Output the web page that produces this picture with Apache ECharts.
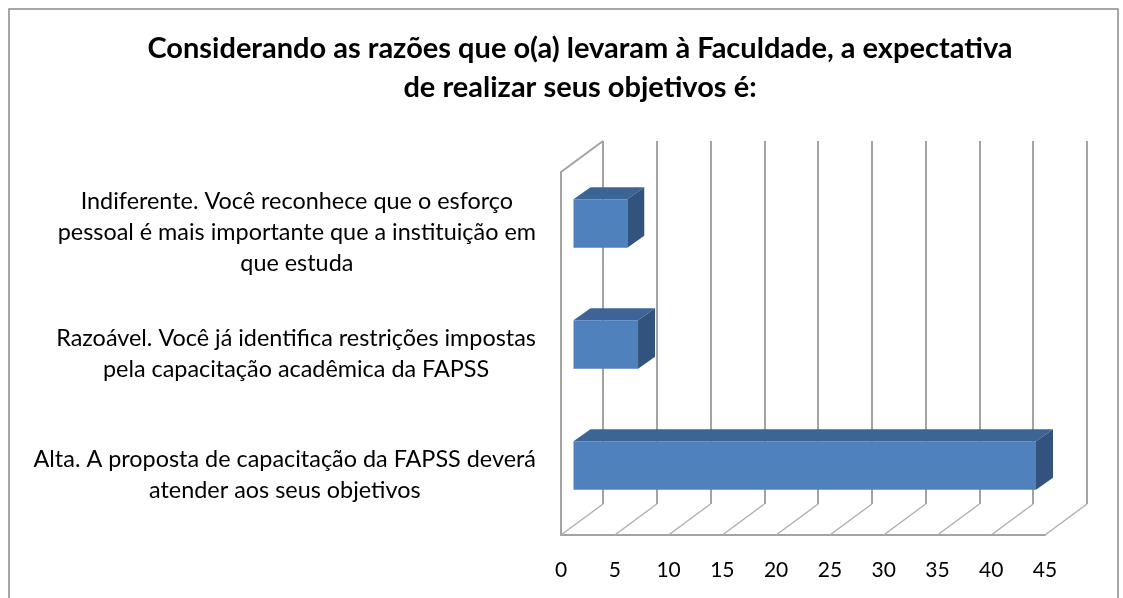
<!DOCTYPE html>
<html>
<head>
<meta charset="utf-8">
<script src="https://cdn.jsdelivr.net/npm/echarts@6/dist/echarts.min.js"></script>
<style>
  html, body { margin: 0; padding: 0; background: #fff; }
  #chart { width: 1123px; height: 598px; }
</style>
</head>
<body>
<div id="chart"></div>
<script>
// data, bottom category first (as Excel draws horizontal bars)
const categories = [
  "Alta. A proposta de capacitação da FAPSS deverá\natender aos seus objetivos",
  "Razoável. Você já identifica restrições impostas\npela capacitação acadêmica da FAPSS",
  "Indiferente. Você reconhece que o esforço\npessoal é mais importante que a instituição em\nque estuda",
];
const values = [43, 6, 5];
const xTicks = [0, 5, 10, 15, 20, 25, 30, 35, 40, 45];
const titleLines = [
  "Considerando as razões que o(a) levaram à Faculdade, a expectativa",
  "de realizar seus objetivos é:",
];

const FONT = "Lato, 'Open Sans', sans-serif";

// pick font sizes so text widths come close to the picture
const measureCtx = document.createElement("canvas").getContext("2d");
const fitSize = (text, weight, target) => {
  measureCtx.font = weight + " 100px " + FONT;
  return Math.round((1000 * target) / measureCtx.measureText(text).width) / 10;
};
const titleSize = fitSize(titleLines[0], "bold", 866);
const labelSize = fitSize(categories[0].split("\n")[0], "normal", 502);

// 3D look: wall depth and bar depth offsets
const DEPTH = [42, -31];
const BAR_SHIFT = [12.5, -9];
const BAR_DEPTH = [17, -12];
const GRID_COLOR = "#a3a3a3";

const chart = echarts.init(document.getElementById("chart"));

const option = {
  animation: false,
  backgroundColor: "#fff",
  title: {
    text: titleLines.join("\n"),
    left: 575,
    top: 24,
    textAlign: "center",
    textStyle: {
      fontFamily: FONT,
      fontWeight: "bold",
      fontSize: titleSize,
      lineHeight: 39,
      color: "#000",
    },
  },
  graphic: [
    {
      type: "rect",
      shape: { x: 9, y: 9, width: 1109, height: 620 },
      style: { fill: "none", stroke: "#8a8a8a", lineWidth: 1.5 },
      silent: true,
    },
  ],
  grid: [
    // front plane
    { left: 561, top: 172, width: 484, height: 363 },
    // back wall
    { left: 561 + DEPTH[0], top: 172 + DEPTH[1], width: 484, height: 363 },
  ],
  xAxis: [
    {
      gridIndex: 0,
      type: "value",
      min: 0,
      max: 45,
      interval: 5,
      axisLine: { show: true, lineStyle: { color: GRID_COLOR, width: 2 } },
      axisTick: { show: false },
      splitLine: { show: false },
      axisLabel: {
        margin: 25,
        fontFamily: FONT,
        fontSize: 21,
        color: "#000",
      },
    },
    {
      gridIndex: 1,
      type: "value",
      min: 0,
      max: 45,
      interval: 5,
      axisLine: { show: false },
      axisTick: { show: false },
      axisLabel: { show: false },
      splitLine: { show: true, lineStyle: { color: GRID_COLOR, width: 2 } },
    },
  ],
  yAxis: [
    {
      gridIndex: 0,
      type: "category",
      data: categories,
      axisLine: { show: true, lineStyle: { color: GRID_COLOR, width: 2 } },
      axisTick: { show: false },
      axisLabel: {
        interval: 0,
        margin: 25,
        align: "right",
        formatter: (v) =>
          v
            .split("\n")
            .map((l) => "{c|" + l + "}")
            .join("\n"),
        rich: {
          c: {
            align: "center",
            fontFamily: FONT,
            fontSize: labelSize,
            lineHeight: 31,
            color: "#000",
          },
        },
      },
    },
    {
      gridIndex: 1,
      type: "category",
      data: categories,
      show: false,
    },
  ],
  series: [
    {
      // floor lines and the top edge of the left wall
      type: "custom",
      xAxisIndex: 0,
      yAxisIndex: 0,
      data: xTicks.map((t) => [t, 0]),
      silent: true,
      renderItem: (params, api) => {
        const cs = params.coordSys;
        const x = api.coord([api.value(0), 0])[0];
        const bottom = cs.y + cs.height;
        const children = [
          {
            type: "line",
            shape: { x1: x, y1: bottom, x2: x + DEPTH[0], y2: bottom + DEPTH[1] },
            style: { stroke: "#b0b0b0", lineWidth: 1.5 },
          },
        ];
        if (params.dataIndex === 0) {
          children.push({
            type: "line",
            shape: { x1: cs.x, y1: cs.y, x2: cs.x + DEPTH[0], y2: cs.y + DEPTH[1] },
            style: { stroke: GRID_COLOR, lineWidth: 2 },
          });
        }
        return { type: "group", children };
      },
    },
    {
      // 3D bars
      type: "custom",
      xAxisIndex: 0,
      yAxisIndex: 0,
      data: values.map((v, i) => [v, i]),
      z: 5,
      renderItem: (params, api) => {
        const i = api.value(1);
        const p0 = api.coord([0, i]);
        const p1 = api.coord([api.value(0), i]);
        const h = api.size([0, 1])[1] * 0.4;
        const x0 = p0[0] + BAR_SHIFT[0];
        const x1 = p1[0] + BAR_SHIFT[0];
        const yT = p0[1] + BAR_SHIFT[1] - h / 2;
        const yB = yT + h;
        const dx = BAR_DEPTH[0];
        const dy = BAR_DEPTH[1];
        return {
          type: "group",
          children: [
            {
              type: "polygon",
              shape: { points: [[x0, yT], [x0 + dx, yT + dy], [x1 + dx, yT + dy], [x1, yT]] },
              style: { fill: "#3c6595" },
            },
            {
              type: "polygon",
              shape: { points: [[x1, yT], [x1 + dx, yT + dy], [x1 + dx, yB + dy], [x1, yB]] },
              style: { fill: "#32537d" },
            },
            {
              type: "rect",
              shape: { x: x0, y: yT, width: x1 - x0, height: h },
              style: { fill: "#4f81bd" },
            },
          ],
        };
      },
    },
  ],
};

chart.setOption(option);
</script>
</body>
</html>
